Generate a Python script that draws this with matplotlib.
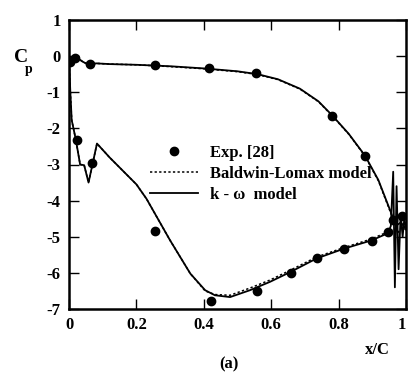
import matplotlib
matplotlib.use("Agg")
import matplotlib.pyplot as plt
from matplotlib.lines import Line2D

plt.rcParams['font.family'] = ['Liberation Serif', 'DejaVu Serif']
plt.rcParams['font.weight'] = 'bold'
plt.rcParams['axes.unicode_minus'] = False

# k-omega model
kw_up_x = [0.0, 0.005, 0.015, 0.025, 0.04, 0.06, 0.08, 0.12, 0.2, 0.3, 0.4, 0.5, 0.56, 0.62, 0.685, 0.74, 0.78, 0.83, 0.878, 0.918, 0.953, 0.97, 0.985, 1.0]
kw_up_cp = [-0.1, -0.05, -0.02, -0.05, -0.15, -0.25, -0.2, -0.22, -0.24, -0.28, -0.34, -0.42, -0.5, -0.64, -0.9, -1.25, -1.63, -2.15, -2.75, -3.43, -4.27, -4.7, -4.6, -4.8]
kw_lo_x = [0.0, 0.004, 0.008, 0.02, 0.033, 0.045, 0.058, 0.083, 0.12, 0.2, 0.23, 0.3, 0.36, 0.404, 0.433, 0.478, 0.537, 0.596, 0.656, 0.735, 0.816, 0.898, 0.947, 0.955, 0.962, 0.967, 0.972, 0.978, 0.984, 0.99, 0.995, 1.0]
kw_lo_cp = [-0.1, -1.0, -1.77, -2.3, -3.0, -3.02, -3.5, -2.42, -2.8, -3.55, -3.95, -5.1, -6.02, -6.48, -6.62, -6.67, -6.48, -6.25, -5.98, -5.6, -5.33, -5.1, -4.9, -4.7, -3.2, -6.4, -3.6, -5.9, -4.4, -5.0, -4.5, -4.75]

# Baldwin-Lomax model
bl_up_x = [0.0, 0.005, 0.015, 0.025, 0.04, 0.06, 0.08, 0.12, 0.2, 0.3, 0.4, 0.5, 0.56, 0.62, 0.685, 0.74, 0.78, 0.83, 0.878, 0.918, 0.953, 0.97, 1.0]
bl_up_cp = [-0.1, -0.05, -0.02, -0.05, -0.15, -0.25, -0.2, -0.22, -0.24, -0.29, -0.35, -0.43, -0.51, -0.65, -0.91, -1.26, -1.64, -2.16, -2.76, -3.45, -4.3, -4.7, -4.8]
bl_lo_x = [0.0, 0.004, 0.008, 0.02, 0.033, 0.045, 0.058, 0.083, 0.12, 0.2, 0.23, 0.3, 0.36, 0.404, 0.433, 0.478, 0.537, 0.596, 0.656, 0.735, 0.816, 0.898, 0.947, 0.96, 0.975, 0.99, 1.0]
bl_lo_cp = [-0.1, -1.0, -1.77, -2.3, -3.0, -3.02, -3.5, -2.42, -2.8, -3.55, -3.95, -5.1, -6.02, -6.5, -6.6, -6.62, -6.42, -6.2, -5.93, -5.56, -5.3, -5.06, -4.86, -4.8, -4.9, -4.7, -4.75]

# Experiment [28]
exp_x = [0.003, 0.018, 0.062, 0.255, 0.416, 0.556, 0.78, 0.878,
         0.023, 0.069, 0.254, 0.42, 0.559, 0.658, 0.735, 0.816, 0.898, 0.947, 0.96, 0.987]
exp_cp = [-0.16, -0.06, -0.22, -0.25, -0.34, -0.48, -1.66, -2.77,
          -2.33, -2.95, -4.85, -6.79, -6.51, -6.0, -5.6, -5.33, -5.12, -4.87, -4.54, -4.43]

xticks = [0, 0.2, 0.4, 0.6, 0.8, 1]
xticklabels = ['0', '0.2', '0.4', '0.6', '0.8', '1']
yticks = [1, 0, -1, -2, -3, -4, -5, -6, -7]
yticklabels = ['1', '0', '-1', '-2', '-3', '-4', '-5', '-6', '-7']

fig = plt.figure(figsize=(4.08, 3.74), dpi=100)
ax = fig.add_axes([69/408, 1-309/374, (406-69)/408, (309-20)/374])

ax.plot(bl_up_x, bl_up_cp, color='black', lw=1.1, ls=(0, (1.5, 1.5)))
ax.plot(bl_lo_x, bl_lo_cp, color='black', lw=1.1, ls=(0, (1.5, 1.5)))
ax.plot(kw_up_x, kw_up_cp, color='black', lw=1.3)
ax.plot(kw_lo_x, kw_lo_cp, color='black', lw=1.3)
ax.plot(exp_x, exp_cp, 'o', color='black', ms=6, ls='none')

ax.set_xlim(0, 1)
ax.set_ylim(-7, 1)
ax.set_xticks(xticks)
ax.set_xticklabels(xticklabels)
ax.set_yticks(yticks)
ax.set_yticklabels(yticklabels)
ax.tick_params(direction='in', length=7, width=1, top=True, right=True, labelsize=12, pad=6)
ax.get_xticklabels()[-1].set_horizontalalignment('right')
for s in ax.spines.values():
    s.set_linewidth(1.8)

handles = [
    Line2D([], [], marker='o', color='black', ls='none', ms=6),
    Line2D([], [], color='black', lw=1.1, ls=(0, (1.5, 1.5))),
    Line2D([], [], color='black', lw=1.3),
]
labels = ['Exp. [28]', 'Baldwin-Lomax model', 'k - \u03c9  model']
fig.legend(handles, labels, loc='upper left', bbox_to_anchor=(150/408, 1-145/374),
           frameon=False, fontsize=12, handlelength=2.9, handletextpad=0.7,
           labelspacing=0.3, borderpad=0, borderaxespad=0)

fig.text(14/408, 1-57/374, 'C', fontsize=14, ha='left', va='center')
fig.text(25/408, 1-70/374, 'p', fontsize=10, ha='left', va='center')
fig.text(377/408, 1-350/374, 'x/C', fontsize=12, ha='center', va='center')
fig.text(229/408, 1-364/374, '(a)', fontsize=12, ha='center', va='center')

fig.savefig('out.png', dpi=100)
